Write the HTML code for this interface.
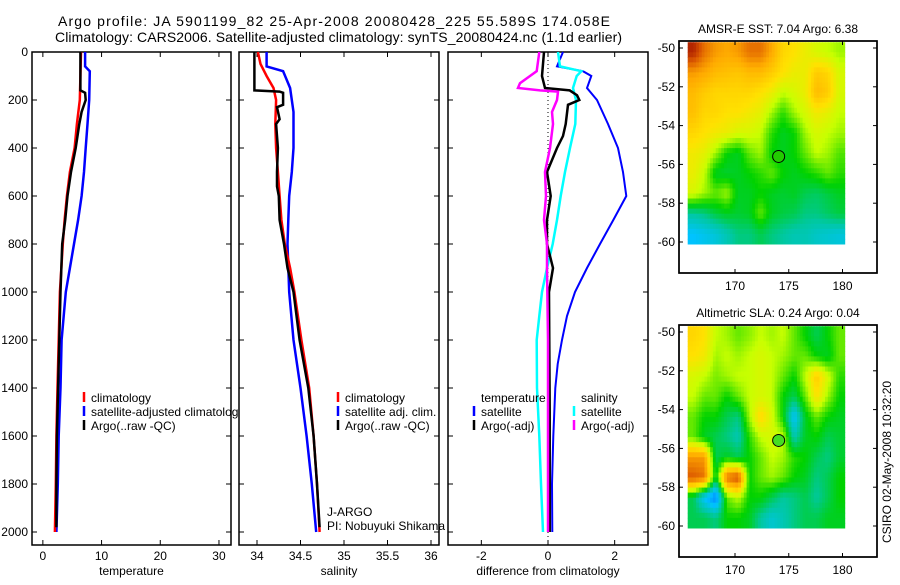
<!DOCTYPE html>
<html><head><meta charset="utf-8"><style>
body{margin:0;background:#fff;}
svg text{font-family:"Liberation Sans",sans-serif;font-size:12px;fill:#000;}
</style></head><body>
<svg id="fig" width="900" height="580" viewBox="0 0 900 580" xmlns="http://www.w3.org/2000/svg">
<rect width="900" height="580" fill="#fff"/>
<text x="58" y="26" style="font-size:14px" textLength="552">Argo profile: JA 5901199_82 25-Apr-2008 20080428_225 55.589S 174.058E</text>
<text x="55" y="42" style="font-size:14px" textLength="567">Climatology: CARS2006. Satellite-adjusted climatology: synTS_20080424.nc (1.1d earlier)</text>
<g id="plots"></g>
</svg>
<script>
// ---- Temperature panel data ----
const tClimDepth=[0,200,300,400,500,600,700,800,1000,1200,1400,1600,1800,2000];
const tClimVal=[6.5,6.3,5.8,5.4,4.6,4.1,3.7,3.4,2.9,2.7,2.5,2.3,2.2,2.05];
const tSatDepth=[0,60,80,200,300,400,500,600,700,800,900,1000,1200,1400,1600,1800,2000];
const tSatVal=[7.2,7.2,8.0,7.9,7.6,7.3,7.0,6.6,6.0,5.3,4.6,3.9,3.2,3.0,2.7,2.55,2.3];
const tArgoDepth=[0,160,170,200,250,300,400,500,600,700,800,1000,1200,1400,1600,1800,1980];
const tArgoVal=[6.4,6.4,7.2,7.3,6.6,6.2,5.6,4.8,4.2,3.8,3.3,3.0,2.8,2.6,2.4,2.3,2.3];
// ---- Salinity panel data ----
const sClimDepth=[0,50,100,150,200,300,400,500,600,700,800,900,1000,1200,1400,1600,1800,2000];
const sClimVal=[34.01,34.04,34.11,34.19,34.22,34.21,34.22,34.24,34.26,34.28,34.32,34.38,34.43,34.51,34.6,34.65,34.69,34.72];
const sSatDepth=[0,60,80,150,250,400,500,600,700,800,1000,1200,1400,1600,1800,2000];
const sSatVal=[34.11,34.11,34.3,34.38,34.42,34.42,34.4,34.37,34.36,34.35,34.37,34.42,34.5,34.57,34.63,34.68];
const sArgoDepth=[0,160,165,170,220,230,280,300,400,500,560,600,700,800,900,1000,1200,1400,1600,1800,1980];
const sArgoVal=[33.97,33.97,34.26,34.3,34.3,34.23,34.26,34.22,34.24,34.23,34.23,34.25,34.26,34.31,34.35,34.42,34.49,34.59,34.65,34.69,34.72];
// ---- Difference panel data ----
const dTSatDepth=[0,60,80,100,150,200,300,400,500,600,700,800,900,1000,1100,1200,1300,1400,1600,1800,2000];
const dTSatVal=[0.45,0.27,1.05,1.3,1.17,1.47,1.8,2.1,2.25,2.35,1.96,1.56,1.17,0.81,0.57,0.42,0.29,0.22,0.16,0.12,0.13];
const dTArgoDepth=[0,100,150,160,180,200,220,300,350,400,500,600,700,800,900,1000,1500,2000];
const dTArgoVal=[-0.12,-0.18,-0.09,0.65,0.87,0.94,0.6,0.53,0.45,0.27,-0.03,0.08,-0.03,-0.03,0.15,0.03,0.05,0.05];
const dSSatDepth=[0,60,80,100,150,200,300,400,500,600,700,800,900,1000,1100,1200,1400,1600,1800,2000];
const dSSatVal=[0.3,0.36,1.0,0.86,0.75,0.84,0.82,0.66,0.51,0.38,0.27,0.14,-0.03,-0.18,-0.26,-0.34,-0.33,-0.26,-0.21,-0.15];
const dSArgoDepth=[0,80,100,130,150,160,165,200,250,300,400,500,600,700,800,900,1200,2000];
const dSArgoVal=[-0.26,-0.34,-0.54,-0.84,-0.9,-0.24,0.3,0.27,0.12,0.15,0.06,-0.09,-0.06,-0.12,-0.03,-0.03,0.0,0.0];
const depthTicks=[0,200,400,600,800,1000,1200,1400,1600,1800,2000];
const tTicks=[0,10,20,30];
const sTicks=[34,34.5,35,35.5,36];
const dTicks=[-2,0,2];
// ---- Map data (rows lat -50..-60, cols lon 166..180), normalised colour value ----
const sstGrid=[
[0.95,0.85,0.8,0.78,0.8,0.85,0.85,0.78,0.7,0.68,0.65,0.62,0.6,0.58],
[0.8,0.78,0.75,0.74,0.73,0.75,0.75,0.72,0.68,0.65,0.65,0.72,0.7,0.62],
[0.75,0.72,0.7,0.7,0.7,0.7,0.68,0.65,0.6,0.62,0.65,0.75,0.72,0.62],
[0.74,0.7,0.7,0.68,0.68,0.66,0.64,0.58,0.52,0.58,0.62,0.66,0.64,0.6],
[0.7,0.68,0.66,0.65,0.62,0.62,0.6,0.52,0.48,0.5,0.58,0.62,0.6,0.58],
[0.66,0.64,0.58,0.5,0.48,0.55,0.58,0.5,0.48,0.5,0.55,0.6,0.58,0.54],
[0.65,0.6,0.48,0.47,0.48,0.5,0.52,0.55,0.5,0.48,0.5,0.52,0.55,0.52],
[0.62,0.58,0.55,0.58,0.48,0.48,0.5,0.48,0.47,0.48,0.45,0.44,0.46,0.48],
[0.4,0.42,0.46,0.48,0.47,0.48,0.55,0.48,0.46,0.45,0.42,0.42,0.44,0.46],
[0.3,0.32,0.34,0.38,0.42,0.42,0.45,0.42,0.4,0.38,0.38,0.36,0.35,0.34]];
const slaGrid=[
[0.7,0.68,0.6,0.58,0.55,0.57,0.6,0.58,0.6,0.55,0.5,0.45,0.5,0.55],
[0.68,0.66,0.58,0.6,0.58,0.6,0.62,0.6,0.58,0.55,0.55,0.5,0.48,0.55],
[0.62,0.6,0.56,0.58,0.6,0.6,0.62,0.6,0.55,0.5,0.6,0.72,0.62,0.52],
[0.6,0.55,0.55,0.5,0.55,0.6,0.62,0.6,0.5,0.45,0.55,0.68,0.58,0.5],
[0.55,0.5,0.5,0.45,0.42,0.58,0.7,0.62,0.5,0.3,0.48,0.55,0.5,0.48],
[0.55,0.48,0.45,0.42,0.38,0.52,0.6,0.62,0.6,0.38,0.48,0.5,0.45,0.47],
[0.8,0.8,0.45,0.48,0.45,0.5,0.55,0.6,0.58,0.52,0.5,0.45,0.42,0.47],
[0.88,0.85,0.48,0.85,0.9,0.5,0.55,0.58,0.55,0.5,0.48,0.42,0.45,0.5],
[0.45,0.3,0.2,0.55,0.6,0.5,0.5,0.45,0.4,0.42,0.45,0.4,0.45,0.5],
[0.45,0.45,0.42,0.5,0.5,0.48,0.4,0.35,0.38,0.42,0.45,0.45,0.48,0.48]];
const latTicks=[-50,-52,-54,-56,-58,-60];
const lonTicks=[170,175,180];
const argoLon=174.06, argoLat=-55.59;

const NS="http://www.w3.org/2000/svg";
const root=document.getElementById('plots');
function mk(tag,attrs,parent){const e=document.createElementNS(NS,tag);for(const k in attrs)e.setAttribute(k,attrs[k]);(parent||root).appendChild(e);return e;}
function txt(s,x,y,anchor,parent){const e=mk('text',{x:x,y:y,'text-anchor':anchor||'start'},parent);e.textContent=s;return e;}
const yD=d=>52+d*0.24;

function panel(name,x0,x1,xmin,xmax,ticks,label,showDepth){
  const g=mk('g',{});
  
  
  mk('rect',{x:x0,y:52,width:x1-x0,height:493,fill:'#fff',stroke:'#000','stroke-width':1.5},g);
  const sx=v=>x0+(v-xmin)/(xmax-xmin)*(x1-x0);
  depthTicks.forEach(d=>{
    mk('line',{x1:x0,x2:x0+5,y1:yD(d),y2:yD(d),stroke:'#000'},g);
    mk('line',{x1:x1-5,x2:x1,y1:yD(d),y2:yD(d),stroke:'#000'},g);
    if(showDepth){const t=txt(String(d),28,yD(d)+4,'end',g);}
  });
  ticks.forEach(v=>{
    mk('line',{x1:sx(v),x2:sx(v),y1:52,y2:57,stroke:'#000'},g);
    mk('line',{x1:sx(v),x2:sx(v),y1:540,y2:545,stroke:'#000'},g);
    const t=txt(String(v),sx(v),560,'middle',g);
    
    
  });
  const xl=txt(label,(x0+x1)/2,575,'middle',g);
  
  
  return {g,sx};
}
function line(p,depths,vals,color,w,name){
  const pts=depths.map((d,i)=>p.sx(vals[i]).toFixed(1)+','+yD(d).toFixed(1)).join(' ');
  const e=mk('polyline',{points:pts,fill:'none',stroke:color,'stroke-width':w,'stroke-linejoin':'miter'},p.g);
  
  
}
function legend(p,x,y,color,label){
  mk('line',{x1:x,x2:x,y1:y-10,y2:y,stroke:color,'stroke-width':2.5},p.g);
  const t=txt(label,x+7,y,'start',p.g);
  
  
}

const p1=panel('temperature-panel',32,231,-1.85,32.05,tTicks,'temperature',true);
line(p1,tSatDepth,tSatVal,'#0000ff',2.5,'temp-satellite-line');
line(p1,tClimDepth,tClimVal,'#ff0000',2.5,'temp-climatology-line');
line(p1,tArgoDepth,tArgoVal,'#000',2.5,'temp-argo-line');
legend(p1,84,402,'#ff0000','climatology');
legend(p1,84,416,'#0000ff','satellite-adjusted climatology');
legend(p1,84,430,'#000','Argo(..raw -QC)');

const p2=panel('salinity-panel',239,439,33.793,36.092,sTicks,'salinity',false);
line(p2,sSatDepth,sSatVal,'#0000ff',2.5,'sal-satellite-line');
line(p2,sClimDepth,sClimVal,'#ff0000',2.5,'sal-climatology-line');
line(p2,sArgoDepth,sArgoVal,'#000',2.5,'sal-argo-line');
legend(p2,338,402,'#ff0000','climatology');
legend(p2,338,416,'#0000ff','satellite adj. clim.');
legend(p2,338,430,'#000','Argo(..raw -QC)');
const j1=txt('J-ARGO',327,516,'start',p2.g);
const j2=txt('PI: Nobuyuki Shikama',327,530,'start',p2.g);

const p3=panel('difference-panel',448,648,-3.0,3.0,dTicks,'difference from climatology',false);
mk('line',{x1:p3.sx(0),x2:p3.sx(0),y1:56,y2:540,stroke:'#000','stroke-dasharray':'1,3'},p3.g);
line(p3,dTSatDepth,dTSatVal,'#0000ff',2,'diff-temp-satellite-line');
line(p3,dSSatDepth,dSSatVal,'#00ffff',2.5,'diff-sal-satellite-line');
line(p3,dTArgoDepth,dTArgoVal,'#000',2.5,'diff-temp-argo-line');
line(p3,dSArgoDepth,dSArgoVal,'#ff00ff',2.5,'diff-sal-argo-line');
const lt=txt('temperature',481,402,'start',p3.g);
const ls=txt('salinity',581,402,'start',p3.g);
legend(p3,474,416,'#0000ff','satellite');
legend(p3,474,430,'#000','Argo(-adj)');
legend(p3,574,416,'#00ffff','satellite');
legend(p3,574,430,'#ff00ff','Argo(-adj)');

const cmapStops=[[0,[0,0,160]],[0.15,[0,100,255]],[0.3,[0,195,255]],[0.4,[0,200,160]],[0.5,[0,210,0]],[0.6,[200,255,0]],[0.68,[255,225,0]],[0.78,[255,170,0]],[0.88,[220,90,0]],[1,[150,0,0]]];
function cmap(v){
  v=Math.max(0,Math.min(1,v));
  for(let i=1;i<cmapStops.length;i++){
    const [a,ca]=cmapStops[i-1],[b,cb]=cmapStops[i];
    if(v<=b){const t=(v-a)/(b-a);return 'rgb('+ca.map((c,k)=>Math.round(c+(cb[k]-c)*t)).join(',')+')';}
  }
  return 'rgb(150,0,0)';
}
function sample(grid,fi,fj){
  const nr=grid.length,nc=grid[0].length;
  fi=Math.max(0,Math.min(nr-1,fi));fj=Math.max(0,Math.min(nc-1,fj));
  const i0=Math.floor(fi),j0=Math.floor(fj),i1=Math.min(nr-1,i0+1),j1=Math.min(nc-1,j0+1);
  const ti=fi-i0,tj=fj-j0;
  const top=grid[i0][j0]*(1-tj)+grid[i0][j1]*tj, bot=grid[i1][j0]*(1-tj)+grid[i1][j1]*tj;
  return top*(1-ti)+bot*ti;
}
function map(name,top,title,grid,circleFill){
  const g=mk('g',{});
  
  
  const x0=679,x1=877,bot=top+232;
  const lx=lon=>735+(lon-170)*10.75;
  const ly=lat=>top+7+(-50-lat)*19.4;
  mk('rect',{x:x0,y:top,width:x1-x0,height:bot-top,fill:'#fff',stroke:'#000','stroke-width':1.5},g);
  const lonMin=165.6,lonMax=180.2,latMax=-49.7,latMin=-60.1;
  const nr=grid.length,nc=grid[0].length,sub=4;
  const NR=nr*sub,NC=nc*sub;
  const cw=(lonMax-lonMin)/NC,ch=(latMax-latMin)/NR;
  for(let i=0;i<NR;i++)for(let j=0;j<NC;j++){
    const v=sample(grid,(i+0.5)/sub-0.5,(j+0.5)/sub-0.5);
    const xa=lx(lonMin+j*cw),xb=lx(lonMin+(j+1)*cw),ya=ly(latMax-i*ch),yb=ly(latMax-(i+1)*ch);
    const r=mk('rect',{x:xa.toFixed(1),y:ya.toFixed(1),width:(xb-xa+0.6).toFixed(1),height:(yb-ya+0.6).toFixed(1),fill:cmap(v)},g);
    
    
  }
  const c=mk('circle',{cx:lx(argoLon),cy:ly(argoLat),r:6,fill:circleFill,stroke:'#000','stroke-width':1},g);
  
  
  mk('rect',{x:x0,y:top,width:x1-x0,height:bot-top,fill:'none',stroke:'#000','stroke-width':1.5},g);
  latTicks.forEach(l=>{
    mk('line',{x1:x0,x2:x0+4,y1:ly(l),y2:ly(l),stroke:'#000'},g);
    mk('line',{x1:x1-4,x2:x1,y1:ly(l),y2:ly(l),stroke:'#000'},g);
    const t=txt(String(l),x0-4,ly(l)+4,'end',g);
    
    
  });
  lonTicks.forEach(l=>{
    mk('line',{x1:lx(l),x2:lx(l),y1:top,y2:top+4,stroke:'#000'},g);
    mk('line',{x1:lx(l),x2:lx(l),y1:bot-4,y2:bot,stroke:'#000'},g);
    const t=txt(String(l),lx(l),bot+17,'middle',g);
    
    
  });
  const tt=txt(title,778,top-8,'middle',g);
  
  
}
map('sst-map',41,'AMSR-E SST: 7.04 Argo: 6.38',sstGrid,'#22cc00');
map('sla-map',325,'Altimetric SLA: 0.24 Argo: 0.04',slaGrid,'#44dd22');
const stamp=txt('CSIRO 02-May-2008 10:32:20',0,0,'middle');
stamp.setAttribute('transform','translate(891,462) rotate(-90)');


</script>
</body></html>
